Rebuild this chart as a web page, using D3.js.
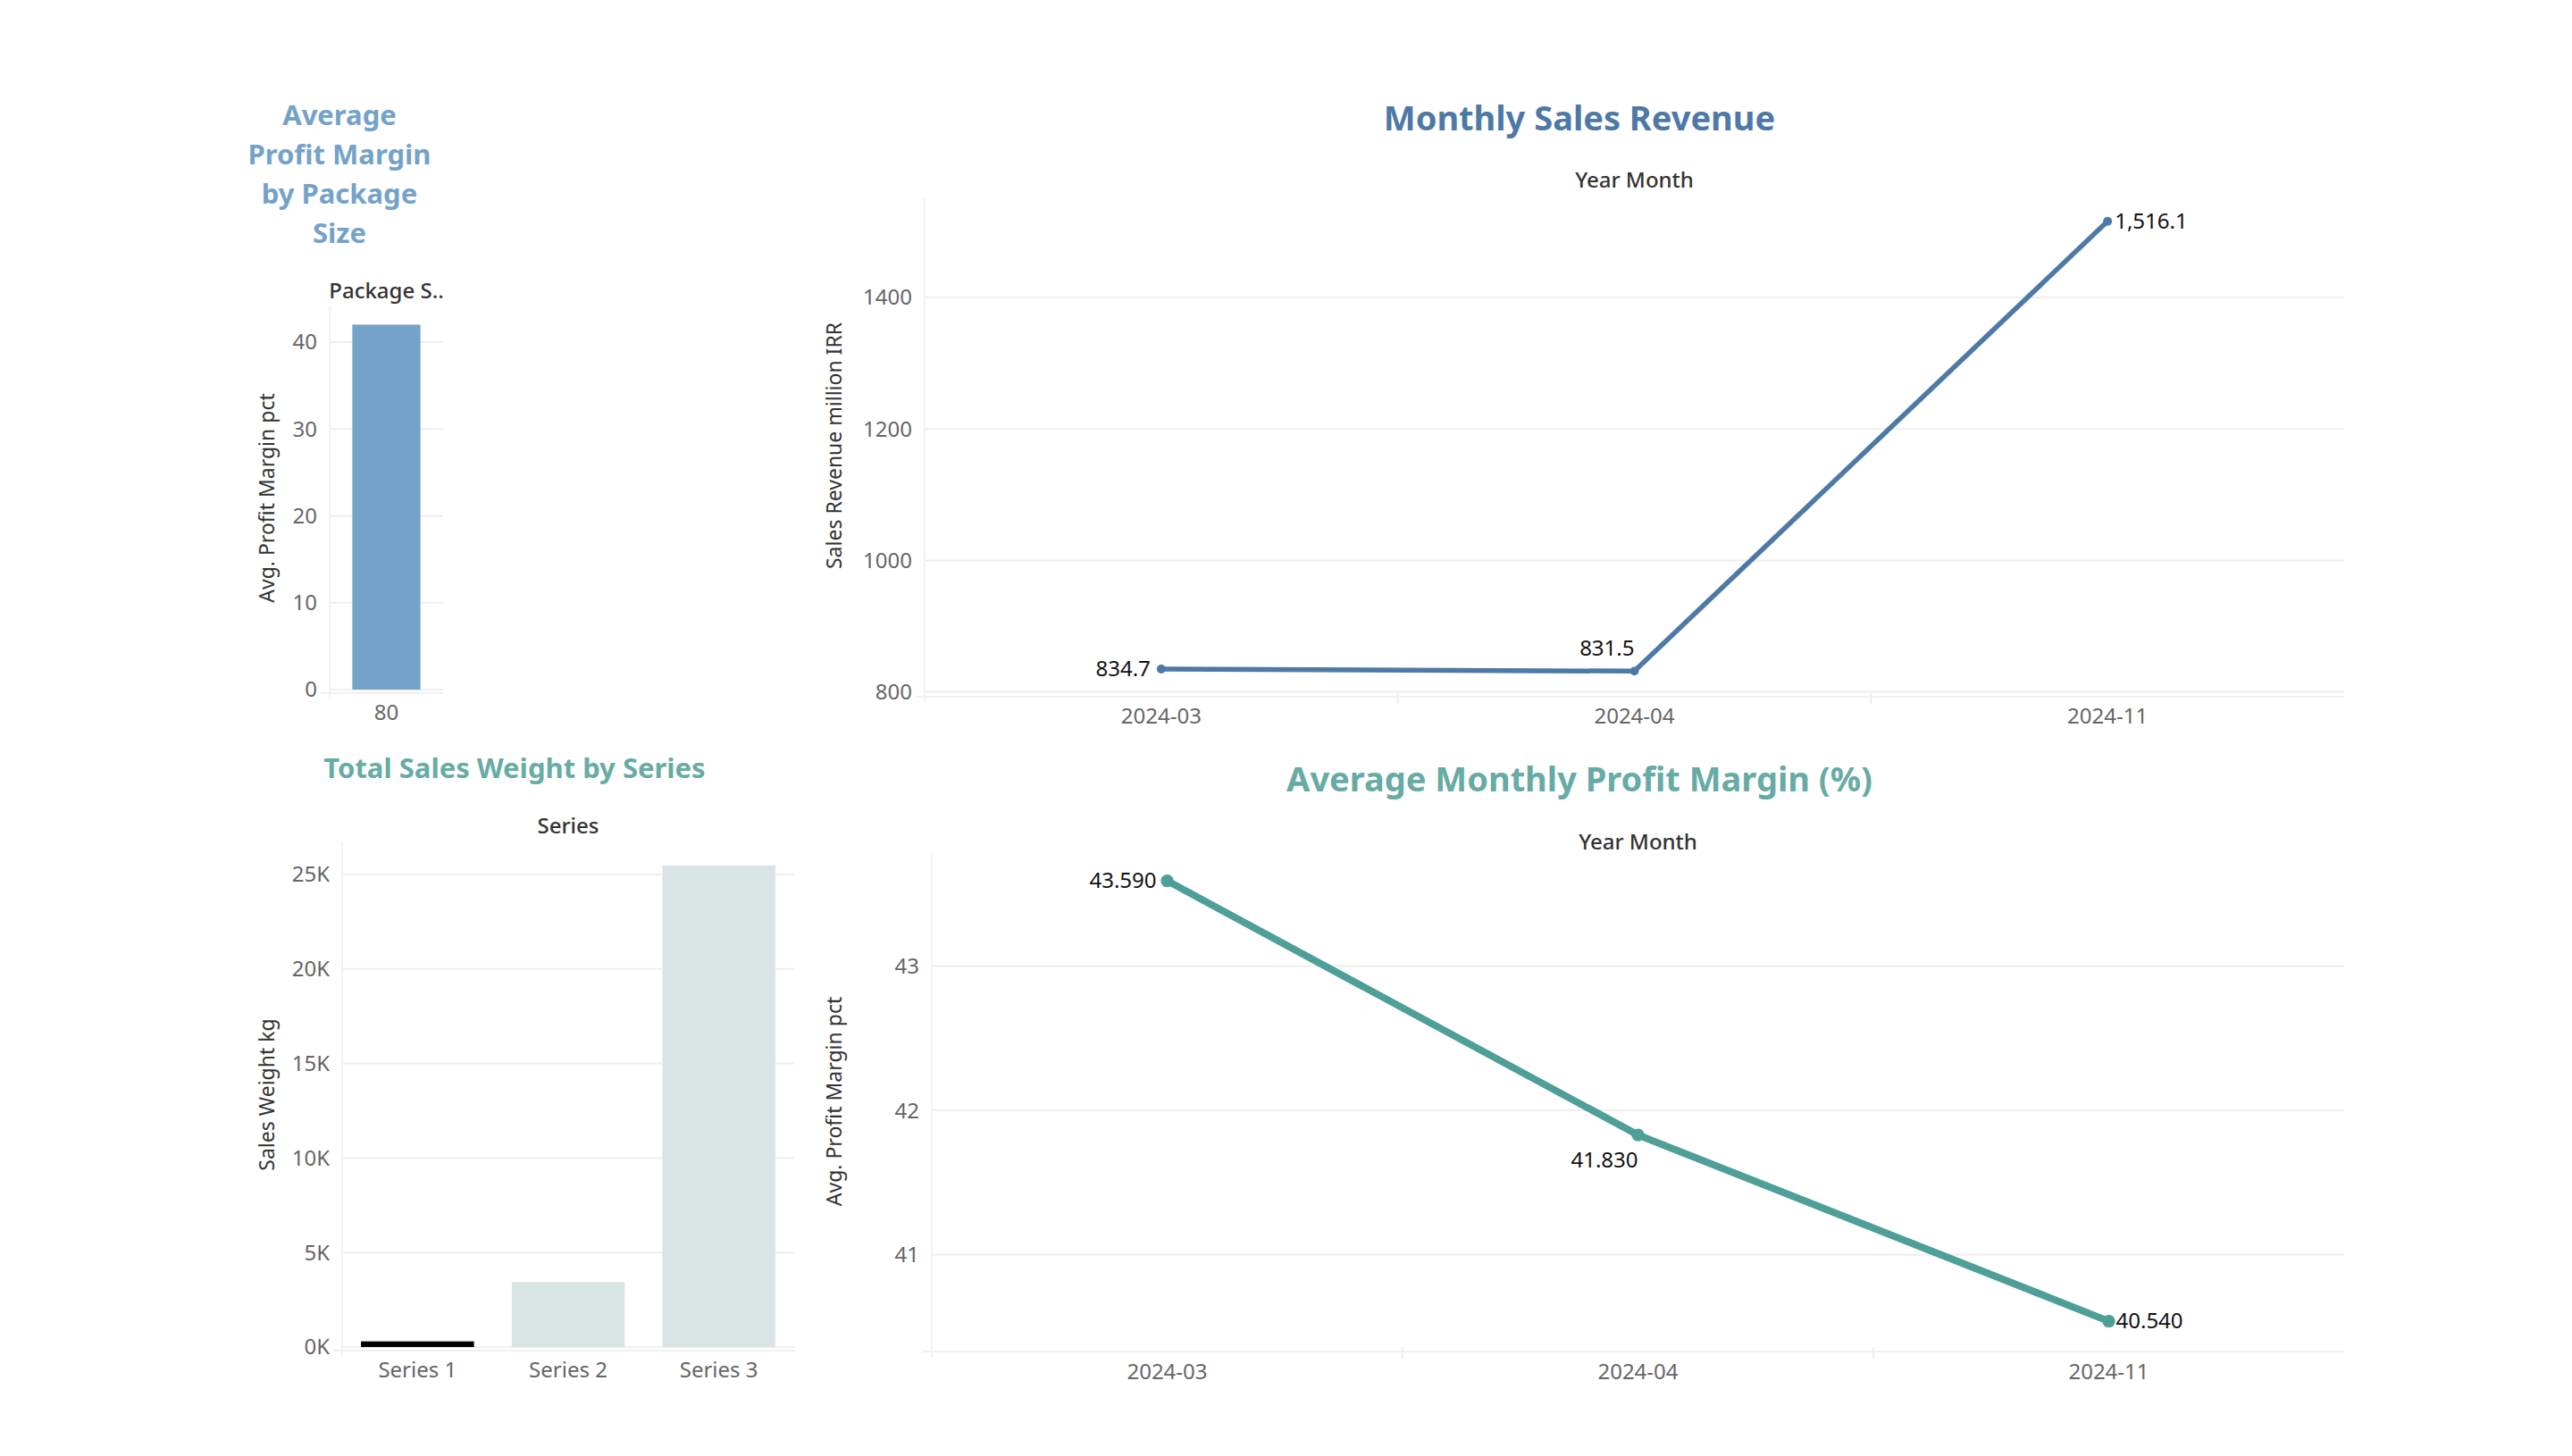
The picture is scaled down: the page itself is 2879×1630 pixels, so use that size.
<!DOCTYPE html>
<html><head><meta charset="utf-8">
<script src="https://cdn.jsdelivr.net/npm/d3@7/dist/d3.min.js"></script>
<style>body{margin:0;background:#fff}text{font-family:"Noto Sans",sans-serif}</style>
</head><body>
<script>
// data
const packageSizes = ["80"];
const packageMargin = [42.0];
const seriesNames = ["Series 1", "Series 2", "Series 3"];
const seriesWeight = [300, 3430, 25480];
const months = ["2024-03", "2024-04", "2024-11"];
const revenue = [834.7, 831.5, 1516.1];
const revenueLabels = ["834.7", "831.5", "1,516.1"];
const profit = [43.59, 41.83, 40.54];
const profitLabels = ["43.590", "41.830", "40.540"];

const W = 2879, H = 1630;
const svg = d3.select("body").append("svg").attr("width", W).attr("height", H);
const grid = "#eeeeee", tickCol = "#666", txt = "#333";

function frame(x0, x1, y0, y1, yScale, ticks, fmt, ylab, labX, header, headerY) {
  const g = svg.append("g");
  g.selectAll(".gl").data(ticks).join("line")
    .attr("x1", x0).attr("x2", x1).attr("y1", d => yScale(d)).attr("y2", d => yScale(d))
    .attr("stroke", grid).attr("stroke-width", 2);
  g.append("line").attr("x1", x0).attr("x2", x0).attr("y1", y0).attr("y2", y1 + 10).attr("stroke", "#f2f2f2").attr("stroke-width", 2);
  g.append("line").attr("x1", x0 - 10).attr("x2", x1).attr("y1", y1 + 4).attr("y2", y1 + 4).attr("stroke", "#f0f0f0").attr("stroke-width", 2);
  g.selectAll(".tl").data(ticks).join("text")
    .attr("x", x0 - 14).attr("y", d => yScale(d)).attr("dy", "0.35em")
    .attr("text-anchor", "end").attr("font-size", 24).attr("fill", tickCol).text(fmt);
  g.append("text").attr("transform", `translate(${labX},${(y0 + y1) / 2}) rotate(-90)`)
    .attr("text-anchor", "middle").attr("font-size", 23).attr("fill", txt).text(ylab);
  g.append("text").attr("x", (x0 + x1) / 2).attr("y", headerY).attr("text-anchor", "middle")
    .attr("font-size", 24).attr("fill", txt).attr("font-weight", 500).text(header);
  return g;
}

// Package chart
{
  const x0 = 369, x1 = 496, y0 = 343, y1 = 772;
  const y = d3.scaleLinear().domain([0, 44.1]).range([y1, y0]);
  const x = d3.scaleBand().domain(packageSizes).range([x0, x1]).padding(0.25);
  const t = svg.append("text").attr("text-anchor", "middle").attr("font-size", 31)
    .attr("font-weight", "bold").attr("fill", "#74a2c8");
  ["Average", "Profit Margin", "by Package", "Size"].forEach((s, i) =>
    t.append("tspan").attr("x", 380).attr("y", 140 + i * 44).text(s));
  const g = frame(x0, x1, y0, y1, y, [0, 10, 20, 30, 40], d => d, "Avg. Profit Margin pct", 307, "Package S..", 334);
  g.selectAll(".b").data(packageMargin).join("rect")
    .attr("x", (d, i) => x(packageSizes[i])).attr("width", x.bandwidth())
    .attr("y", d => y(d)).attr("height", d => y1 - y(d)).attr("fill", "#74a2c8");
  g.selectAll(".xl").data(packageSizes).join("text")
    .attr("x", d => x(d) + x.bandwidth() / 2).attr("y", 806).attr("text-anchor", "middle")
    .attr("font-size", 24).attr("fill", tickCol).text(d => d);
}

// Series chart
{
  const x0 = 383, x1 = 889, y0 = 943, y1 = 1508;
  const y = d3.scaleLinear().domain([0, 26700]).range([y1, y0]);
  const x = d3.scaleBand().domain(seriesNames).range([x0, x1]).paddingInner(0.25).paddingOuter(0.125);
  svg.append("text").attr("x", 576).attr("y", 871).attr("text-anchor", "middle").attr("font-size", 31)
    .attr("font-weight", "bold").attr("fill", "#66aba4").text("Total Sales Weight by Series");
  const g = frame(x0, x1, y0, y1, y, [0, 5000, 10000, 15000, 20000, 25000], d => (d / 1000) + "K", "Sales Weight kg", 307, "Series", 933);
  g.selectAll(".b").data(seriesWeight).join("rect")
    .attr("x", (d, i) => x(seriesNames[i])).attr("width", x.bandwidth())
    .attr("y", d => y(d)).attr("height", d => y1 - y(d))
    .attr("fill", (d, i) => i === 0 ? "#000" : "#d9e5e4");
  g.selectAll(".xl").data(seriesNames).join("text")
    .attr("x", d => x(d) + x.bandwidth() / 2).attr("y", 1542).attr("text-anchor", "middle")
    .attr("font-size", 24).attr("fill", tickCol).text(d => d);
}

function lineChart(o) {
  const y = d3.scaleLinear().domain(o.domain).range([o.y1, o.y0]);
  const x = d3.scaleBand().domain(months).range([o.x0, o.x1]);
  svg.append("text").attr("x", 1768).attr("y", o.titleY).attr("text-anchor", "middle").attr("font-size", 38)
    .attr("font-weight", "bold").attr("fill", o.titleCol).text(o.title);
  const g = frame(o.x0, o.x1, o.y0, o.y1, y, o.ticks, d => d, o.ylab, 942, "Year Month", o.headerY);
  months.slice(1).forEach(m => g.append("line").attr("x1", x(m)).attr("x2", x(m))
    .attr("y1", o.y1).attr("y2", o.y1 + 12).attr("stroke", "#eee").attr("stroke-width", 2));
  const cx = m => x(m) + x.bandwidth() / 2;
  g.append("path").datum(o.values)
    .attr("d", d3.line().x((d, i) => cx(months[i])).y(d => y(d)))
    .attr("fill", "none").attr("stroke", o.color).attr("stroke-width", o.sw);
  g.selectAll(".p").data(o.values).join("circle")
    .attr("cx", (d, i) => cx(months[i])).attr("cy", d => y(d)).attr("r", o.sw * 0.9).attr("fill", o.color);
  g.selectAll(".v").data(o.values).join("text")
    .attr("x", (d, i) => cx(months[i]) + o.lab[i][0]).attr("y", (d, i) => y(d) + o.lab[i][1]).attr("dy", "0.35em")
    .attr("text-anchor", (d, i) => o.lab[i][2]).attr("font-size", 24).attr("fill", "#111")
    .text((d, i) => o.labels[i]);
  g.selectAll(".xl").data(months).join("text")
    .attr("x", d => cx(d)).attr("y", o.xlY).attr("text-anchor", "middle")
    .attr("font-size", 24).attr("fill", tickCol).text(d => d);
}

lineChart({
  x0: 1035, x1: 2624, y0: 222, y1: 776, domain: [798, 1551], ticks: [800, 1000, 1200, 1400],
  title: "Monthly Sales Revenue", titleY: 146, titleCol: "#4e79a7", headerY: 210,
  ylab: "Sales Revenue million IRR", values: revenue, labels: revenueLabels,
  color: "#4e79a7", sw: 5.5, xlY: 810,
  lab: [[-12, 0, "end"], [0, -26, "end"], [8, 0, "start"]]
});
lineChart({
  x0: 1043, x1: 2624, y0: 957, y1: 1509, domain: [40.355, 43.77], ticks: [41, 42, 43],
  title: "Average Monthly Profit Margin (%)", titleY: 886, titleCol: "#66aba4", headerY: 951,
  ylab: "Avg. Profit Margin pct", values: profit, labels: profitLabels,
  color: "#4e9f98", sw: 8, xlY: 1544,
  lab: [[-12, 0, "end"], [0, 28, "end"], [8, 0, "start"]]
});
</script>
</body></html>
